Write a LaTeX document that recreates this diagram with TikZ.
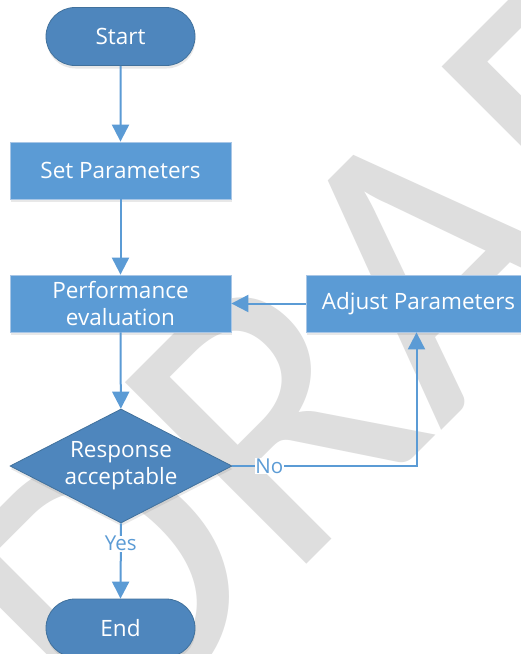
\documentclass[tikz,border=0pt]{standalone}
\usepackage{fontspec}
\setmainfont{Open Sans}
\newfontfamily\wmfont{Carlito}
\usetikzlibrary{arrows.meta,shapes.geometric,shapes.misc,shadows}
\definecolor{boxfill}{HTML}{5B9BD5}
\definecolor{darkfill}{HTML}{4E86BD}
\definecolor{darkline}{HTML}{41719C}
\definecolor{lightline}{HTML}{A8C6E6}
\definecolor{wmgray}{RGB}{222,222,222}
\tikzset{
  x=1pt, y=-1pt,
  base/.style={text=white, font=\fontsize{22.5}{27}\selectfont, align=center, inner sep=0pt,
    drop shadow={opacity=0.18, shadow xshift=0.5pt, shadow yshift=-3pt}},
  term/.style={base, rounded rectangle, fill=darkfill, draw=darkline, line width=0.8pt,
    minimum width=149pt, minimum height=58pt},
  proc/.style={base, rectangle, fill=boxfill, draw=lightline, line width=0.8pt,
    minimum width=221pt, minimum height=57pt},
  decis/.style={base, diamond, aspect=1.95, fill=darkfill, draw=darkline, line width=0.8pt,
    minimum width=222pt, minimum height=114pt},
  conn/.style={draw=boxfill, line width=2pt, -{Triangle[width=17pt,length=17pt]}},
  lbl/.style={text=boxfill, fill=white, inner sep=0.5pt, font=\fontsize{20.5}{24}\selectfont},
}
\begin{document}
\begin{tikzpicture}
\useasboundingbox (0,0) rectangle (521,654);
\clip (0,0) rectangle (521,654);
\fill[white] (0,0) rectangle (521,654);
\node[rotate=45, anchor=base west, inner sep=0pt, text=wmgray,
  font=\wmfont\fontsize{400}{400}\selectfont] (wm) at (112.8,759) {DRAFT};
\node[term] (start) at (120.5,36.5) {Start};
\node[proc] (setp) at (120.5,170.5) {Set Parameters};
\node[proc] (perf) at (120.5,303.5) {Performance\\evaluation};
\node[proc, minimum width=225pt] (adj) at (418.5,303.5) {Adjust Parameters};
\node[decis] (dec) at (121,466) {Response\\acceptable};
\node[term] (end) at (120.5,628) {End};
\draw[conn] (start) -- (setp);
\draw[conn] (setp) -- (perf);
\draw[conn] (adj) -- (perf);
\draw[conn] (perf) -- (dec);
\draw[conn] (dec.east) -| node[lbl, pos=0.1] (no) {No} ([xshift=-2pt]adj.south);
\draw[conn] (dec.south) -- node[lbl, pos=0.27] (yes) {Yes} (end.north);
\end{tikzpicture}
\end{document}
